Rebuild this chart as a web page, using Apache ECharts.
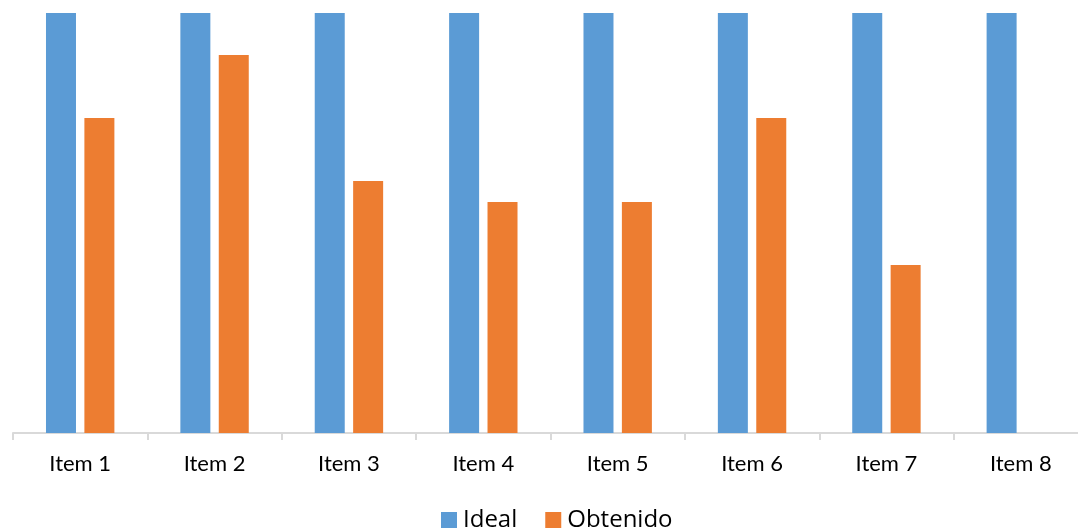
<!DOCTYPE html>
<html>
<head>
<meta charset="utf-8">
<script src="https://cdn.jsdelivr.net/npm/echarts@6/dist/echarts.min.js"></script>
<style>
  html, body { margin: 0; padding: 0; background: #fff; }
  #main { width: 1078px; height: 529px; }
</style>
</head>
<body>
<div id="main"></div>
<script>
var items = ['Item 1', 'Item 2', 'Item 3', 'Item 4', 'Item 5', 'Item 6', 'Item 7', 'Item 8'];
var ideal = [100, 100, 100, 100, 100, 100, 100, 100];
var obtenido = [75, 90, 60, 55, 55, 75, 40, null];

var myChart = echarts.init(document.getElementById('main'));
var option = {
    animation: false,
    textStyle: { fontFamily: 'Lato' },
    legend: {
        top: 508,
        left: 441,
        padding: 0,
        icon: 'rect',
        itemWidth: 16,
        itemHeight: 16,
        itemGap: 28,
        textStyle: { color: '#000', fontSize: 24, fontFamily: 'Open Sans', padding: [0, 0, 0, 1] },
        data: ['Ideal', 'Obtenido']
    },
    grid: {
        left: 13,
        width: 1075,
        top: 13,
        bottom: 96,
        outerBoundsMode: 'none'
    },
    xAxis: {
        type: 'category',
        data: items,
        axisLine: { lineStyle: { color: '#d9d9d9', width: 2 } },
        axisTick: { show: true, length: 7, lineStyle: { color: '#d9d9d9', width: 2 } },
        axisLabel: { color: '#000', fontSize: 22, margin: 20, fontFamily: 'Lato' }
    },
    yAxis: {
        type: 'value',
        min: 0,
        max: 100,
        show: false,
        splitLine: { show: false }
    },
    series: [{
        name: 'Ideal',
        type: 'bar',
        barWidth: 30,
        barGap: '28%',
        itemStyle: { color: '#5b9bd5' },
        data: ideal
    }, {
        name: 'Obtenido',
        type: 'bar',
        barWidth: 30,
        itemStyle: { color: '#ed7d31' },
        data: obtenido
    }]
};
myChart.setOption(option);
</script>
</body>
</html>
